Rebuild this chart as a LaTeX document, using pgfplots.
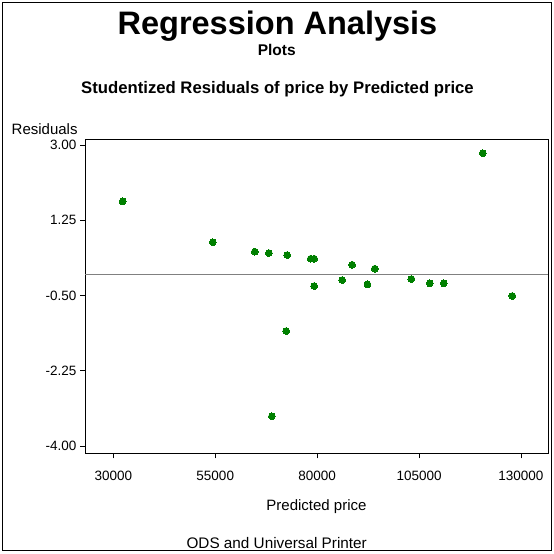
\documentclass[border=0pt]{standalone}
\usepackage{pgfplots}
\pgfplotsset{compat=1.18}
\usepackage{fontspec}
\setmainfont{Liberation Sans}
\definecolor{dotgreen}{RGB}{0,128,0}
\definecolor{refgray}{RGB}{128,128,128}
\begin{document}
\begin{tikzpicture}
\path[use as bounding box] (0bp,0bp) rectangle (554bp,-554bp);
\draw[line width=1.2bp] (2.5bp,-2.5bp) rectangle (551.5bp,-550.5bp);
\begin{axis}[
  at={(85bp,-453.3bp)}, anchor=south west,
  scale only axis, width=463.3bp, height=314.3bp,
  xmin=23050, xmax=136700, ymin=-4.17, ymax=3.14,
  xtick={30000,55000,80000,105000,130000},
  xticklabels={30000,55000,80000,105000,130000},
  ytick={-4,-2.25,-0.5,1.25,3},
  yticklabels={-4.00,-2.25,-0.50,1.25,3.00},
  tick align=outside, major tick length=5bp,
  xtick pos=bottom, ytick pos=left,
  tick style={black, line width=0.8bp},
  axis line style={line width=1bp},
  scaled ticks=false,
  xticklabel style={font=\fontsize{13.5bp}{16bp}\selectfont, anchor=base, yshift=-22.5bp},
  yticklabel style={font=\fontsize{13.5bp}{16bp}\selectfont},
]
\addplot[refgray, line width=1bp] coordinates {(23050,0) (136700,0)};
\addplot[only marks, mark=*, mark size=3.4bp, mark options={fill=dotgreen, draw=dotgreen, line width=0pt}] coordinates {
(32300,1.69)
(54400,0.737)
(64700,0.52)
(68160,0.488)
(72650,0.442)
(78420,0.356)
(79270,0.356)
(79270,-0.279)
(86130,-0.14)
(88580,0.216)
(92330,-0.24)
(94140,0.124)
(103110,-0.116)
(107620,-0.217)
(111060,-0.217)
(120610,2.81)
(127880,-0.51)
(72400,-1.326)
(68890,-3.31)
};
\end{axis}
\node[anchor=base, inner sep=0pt, font=\bfseries\fontsize{32.5bp}{38bp}\selectfont] at (277.5bp,-34bp) {Regression Analysis};
\node[anchor=base, inner sep=0pt, font=\bfseries\fontsize{15.5bp}{18bp}\selectfont] at (276.7bp,-55bp) {Plots};
\node[anchor=base, inner sep=0pt, font=\bfseries\fontsize{16.7bp}{20bp}\selectfont] at (277.5bp,-93bp) {Studentized Residuals of price by Predicted price};
\node[anchor=base west, inner sep=0pt, font=\fontsize{15bp}{18bp}\selectfont] at (11.5bp,-134bp) {Residuals};
\node[anchor=base, inner sep=0pt, font=\fontsize{15bp}{18bp}\selectfont] at (316.5bp,-510bp) {Predicted price};
\node[anchor=base, inner sep=0pt, font=\fontsize{15.3bp}{18bp}\selectfont] at (276.7bp,-548bp) {ODS and Universal Printer};
\end{tikzpicture}
\end{document}
